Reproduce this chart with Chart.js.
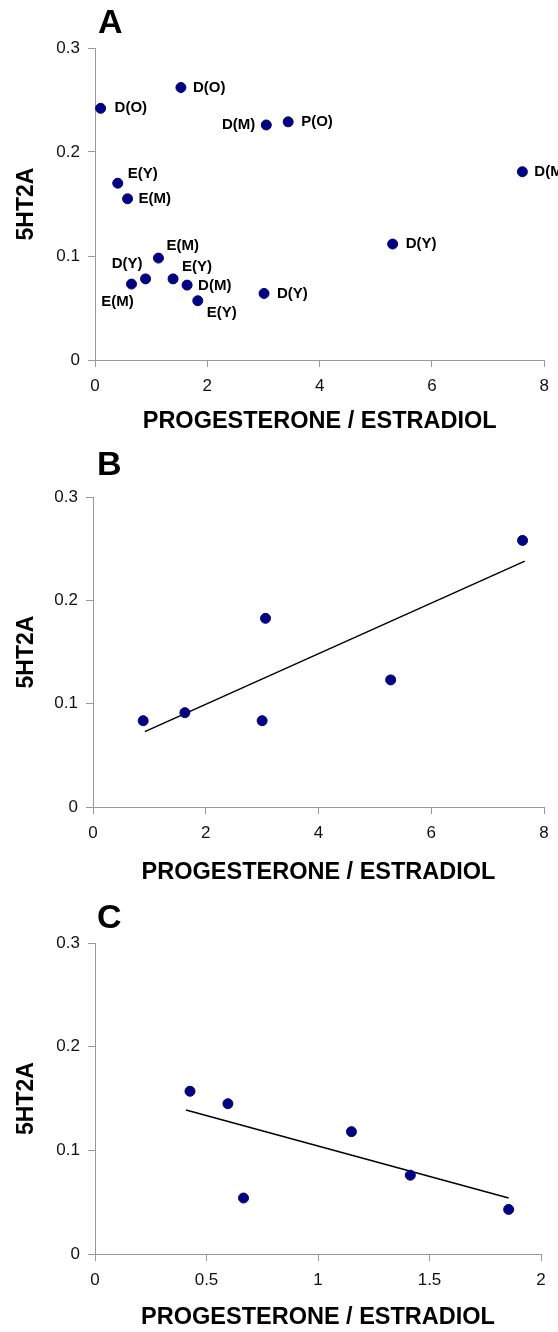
<!DOCTYPE html>
<html>
<head>
<meta charset="utf-8">
<title>5HT2A vs progesterone / estradiol</title>
<script src="https://cdn.jsdelivr.net/npm/chart.js@4.4.1/dist/chart.umd.min.js"></script>
<style>
  body { margin: 0; background: #fff; }
  canvas { display: block; }
</style>
</head>
<body>
<canvas id="chartA" width="558" height="440"></canvas>
<canvas id="chartB" width="558" height="450"></canvas>
<canvas id="chartC" width="558" height="442"></canvas>
<script>
// Panel A - all samples, labelled by group
const aRatio = [0.1, 1.53, 3.05, 3.44, 7.61, 5.30, 0.405, 0.58, 1.13, 0.65, 0.90, 1.39, 1.64, 1.83, 3.01];
const aValue = [0.242, 0.262, 0.226, 0.229, 0.181, 0.1115, 0.170, 0.155, 0.098, 0.073, 0.078, 0.078, 0.072, 0.057, 0.064];
const aNames = ["D(O)", "D(O)", "D(M)", "P(O)", "D(M)", "D(Y)", "E(Y)", "E(M)", "E(M)", "E(M)", "D(Y)", "E(Y)", "D(M)", "E(Y)", "D(Y)"];

// Panel B
const bRatio = [0.89, 1.63, 3.00, 3.06, 5.28, 7.62];
const bValue = [0.0835, 0.0913, 0.0835, 0.1826, 0.123, 0.258];
const bTrendRatio = [0.92, 7.66];
const bTrendValue = [0.073, 0.238];

// Panel C
const cRatio = [0.426, 0.596, 0.666, 1.150, 1.414, 1.855];
const cValue = [0.157, 0.145, 0.054, 0.118, 0.076, 0.043];
const cTrendRatio = [0.408, 1.855];
const cTrendValue = [0.139, 0.054];

// ticks
const yTicks = [0, 0.1, 0.2, 0.3];
const xTicksAB = [0, 2, 4, 6, 8];
const xTicksC = [0, 0.5, 1, 1.5, 2];

const xTitle = "PROGESTERONE / ESTRADIOL";
const yTitle = "5HT2A";

// where each name sits next to its dot in panel A: [dx, dy, align]
const aLabelPlace = [
  [14, 0, "left"], [12, 0, "left"], [-11, 0, "right"], [13, 0, "left"], [12, 0, "left"],
  [13, 0, "left"], [10, -9, "left"], [11, 0, "left"], [8, -12, "left"], [-14, 18, "center"],
  [-3, -15, "right"], [9, -12, "left"], [11, 1, "left"], [9, 12, "left"], [13, 0, "left"]
];

const FONT = "'Liberation Sans', Arial, sans-serif";
const DOT = "#000080";
const AXIS = "#999999";

function toPoints(xs, ys) {
  return xs.map((x, i) => ({ x: x, y: ys[i] }));
}

// big A / B / C in the corner
function letterPlugin(text, x, y) {
  return {
    id: "panelLetter",
    afterDraw(chart) {
      const ctx = chart.ctx;
      ctx.save();
      ctx.font = "bold 34px " + FONT;
      ctx.fillStyle = "#000";
      ctx.textAlign = "left";
      ctx.textBaseline = "alphabetic";
      ctx.fillText(text, x, y);
      ctx.restore();
    }
  };
}

// group names beside the dots (panel A only)
const namePlugin = {
  id: "pointNames",
  afterDatasetsDraw(chart) {
    const ctx = chart.ctx;
    const pts = chart.getDatasetMeta(0).data;
    ctx.save();
    ctx.font = "bold 15px " + FONT;
    ctx.fillStyle = "#000";
    ctx.textBaseline = "middle";
    pts.forEach((p, i) => {
      const place = aLabelPlace[i];
      ctx.textAlign = place[2];
      ctx.fillText(aNames[i], p.x + place[0], p.y + place[1]);
    });
    ctx.restore();
  }
};

function makePanel(id, box, points, trend, xTicks, xMax, plugins) {
  const datasets = [{
    data: points,
    backgroundColor: DOT,
    borderColor: DOT,
    pointRadius: 5,
    pointHoverRadius: 5
  }];
  if (trend) {
    datasets.push({
      data: trend,
      showLine: true,
      borderColor: "#000",
      borderWidth: 1.5,
      pointRadius: 0
    });
  }

  return new Chart(document.getElementById(id), {
    type: "scatter",
    data: { datasets: datasets },
    plugins: plugins,
    options: {
      responsive: false,
      animation: false,
      devicePixelRatio: 1,
      layout: { padding: { top: box.top, right: box.right, bottom: 0, left: 0 } },
      plugins: { legend: { display: false }, tooltip: { enabled: false } },
      scales: {
        x: {
          type: "linear",
          min: 0,
          max: xMax,
          afterBuildTicks: (scale) => { scale.ticks = xTicks.map(v => ({ value: v })); },
          afterFit: (scale) => { scale.height = box.xHeight; },
          grid: { drawOnChartArea: false, drawTicks: true, tickLength: 7, color: AXIS },
          border: { color: AXIS, width: 1 },
          ticks: { padding: 9, color: "#111", font: { family: FONT, size: 17 }, callback: (v) => String(v) },
          title: {
            display: true, text: xTitle, color: "#000",
            font: { family: FONT, size: 23.5, weight: "bold" },
            padding: { top: 0, bottom: box.titlePad }
          }
        },
        y: {
          type: "linear",
          min: 0,
          max: 0.3,
          afterBuildTicks: (scale) => { scale.ticks = yTicks.map(v => ({ value: v })); },
          afterFit: (scale) => { scale.width = box.yWidth; },
          grid: { drawOnChartArea: false, drawTicks: true, tickLength: 7, color: AXIS },
          border: { color: AXIS, width: 1 },
          ticks: { padding: 8, color: "#111", font: { family: FONT, size: 17 }, callback: (v) => String(v) },
          title: {
            display: true, text: yTitle, color: "#000",
            font: { family: FONT, size: 23, weight: "bold" },
            padding: { top: 13, bottom: 0 }
          }
        }
      }
    }
  });
}

makePanel("chartA", { top: 48, right: 9, yWidth: 95, xHeight: 80, titlePad: 4 },
  toPoints(aRatio, aValue), null, xTicksAB, 8,
  [namePlugin, letterPlugin("A", 98, 33)]);

makePanel("chartB", { top: 57, right: 14, yWidth: 93, xHeight: 83, titlePad: 3 },
  toPoints(bRatio, bValue), toPoints(bTrendRatio, bTrendValue), xTicksAB, 8,
  [letterPlugin("B", 97, 35)]);

makePanel("chartC", { top: 53, right: 17, yWidth: 95, xHeight: 78, titlePad: 0 },
  toPoints(cRatio, cValue), toPoints(cTrendRatio, cTrendValue), xTicksC, 2,
  [letterPlugin("C", 97, 38)]);
</script>
</body>
</html>
